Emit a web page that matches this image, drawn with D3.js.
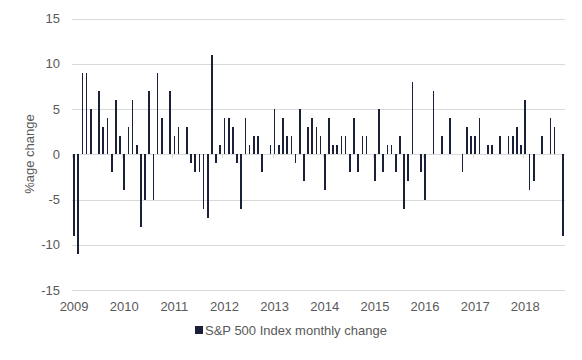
<!DOCTYPE html>
<html>
<head>
<meta charset="utf-8">
<script src="https://cdn.jsdelivr.net/npm/d3@7"></script>
<style>
  body { margin: 0; background: #fff; }
  text { font-family: "Liberation Sans", Arial, sans-serif; fill: #595959; }
</style>
</head>
<body>
<div id="chart"></div>
<script>
// monthly % change, Jan 2009 .. Oct 2018 (rounded)
const years = ["2009", "2010", "2011", "2012", "2013", "2014", "2015", "2016", "2017", "2018"];
const changes2009 = [-9, -11, 9, 9, 5, 0, 7, 3, 4, -2, 6, 2];
const changes2010 = [-4, 3, 6, 1, -8, -5, 7, -5, 9, 4, 0, 7];
const changes2011 = [2, 3, 0, 3, -1, -2, -2, -6, -7, 11, -1, 1];
const changes2012 = [4, 4, 3, -1, -6, 4, 1, 2, 2, -2, 0, 1];
const changes2013 = [5, 1, 4, 2, 2, -1, 5, -3, 3, 4, 3, 2];
const changes2014 = [-4, 4, 1, 1, 2, 2, -2, 4, -2, 2, 2, 0];
const changes2015 = [-3, 5, -2, 1, 1, -2, 2, -6, -3, 8, 0, -2];
const changes2016 = [-5, 0, 7, 0, 2, 0, 4, 0, 0, -2, 3, 2];
const changes2017 = [2, 4, 0, 1, 1, 0, 2, 0, 2, 2, 3, 1];
const changes2018 = [6, -4, -3, 0, 2, 0, 4, 3, 0, -9];
const yTicks = [-15, -10, -5, 0, 5, 10, 15];
const seriesName = "S&P 500 Index monthly change";

const values = [].concat(changes2009, changes2010, changes2011, changes2012, changes2013,
                         changes2014, changes2015, changes2016, changes2017, changes2018);

const width = 582, height = 360;
const plotLeft = 72, plotRight = 565, plotTop = 18.5, plotBottom = 290;
const barColor = "#1b2039";

const svg = d3.select("#chart")
    .append("svg")
    .attr("width", width)
    .attr("height", height);

const x = d3.scaleBand()
    .domain(d3.range(values.length))
    .range([plotLeft, plotRight])
    .padding(0);

const y = d3.scaleLinear()
    .domain([-15, 15])
    .range([plotBottom, plotTop]);

// gridlines + y labels
svg.append("g").selectAll("line")
    .data(yTicks)
    .enter().append("line")
    .attr("x1", plotLeft)
    .attr("x2", plotRight)
    .attr("y1", d => Math.round(y(d)) + 0.5)
    .attr("y2", d => Math.round(y(d)) + 0.5)
    .attr("stroke", "#d9d9d9")
    .attr("stroke-width", 1);

svg.append("g").selectAll("text")
    .data(yTicks)
    .enter().append("text")
    .attr("x", 60)
    .attr("y", d => y(d))
    .attr("dy", "0.35em")
    .attr("text-anchor", "end")
    .style("font-size", "13px")
    .text(d => d);

// small category ticks on the zero line, every 12 months
const yearStarts = years.map((yr, i) => i * 12);
svg.append("g").selectAll("line")
    .data(yearStarts)
    .enter().append("line")
    .attr("x1", d => Math.round(x(d)) + 0.5)
    .attr("x2", d => Math.round(x(d)) + 0.5)
    .attr("y1", Math.round(y(0)))
    .attr("y2", Math.round(y(0)) + 4)
    .attr("stroke", "#d9d9d9");

// bars
const barW = x.bandwidth() * 0.4;
svg.append("g").selectAll("rect")
    .data(values)
    .enter().append("rect")
    .attr("x", (d, i) => x(i) + (x.bandwidth() - barW) / 2)
    .attr("y", d => y(Math.max(0, d)))
    .attr("width", barW)
    .attr("height", d => Math.abs(y(d) - y(0)))
    .attr("fill", barColor)
    .attr("shape-rendering", "crispEdges");

// year labels, centred on January
svg.append("g").selectAll("text")
    .data(years)
    .enter().append("text")
    .attr("x", (d, i) => x(i * 12) + x.bandwidth() / 2)
    .attr("y", 311)
    .attr("text-anchor", "middle")
    .style("font-size", "13px")
    .text(d => d);

// y axis title
svg.append("text")
    .attr("transform", "translate(34,154) rotate(-90)")
    .attr("text-anchor", "middle")
    .style("font-size", "13px")
    .text("%age change");

// legend
svg.append("rect")
    .attr("x", 195)
    .attr("y", 326)
    .attr("width", 8)
    .attr("height", 8)
    .attr("fill", barColor);

svg.append("text")
    .attr("x", 205)
    .attr("y", 334.5)
    .style("font-size", "13px")
    .text(seriesName);
</script>
</body>
</html>
